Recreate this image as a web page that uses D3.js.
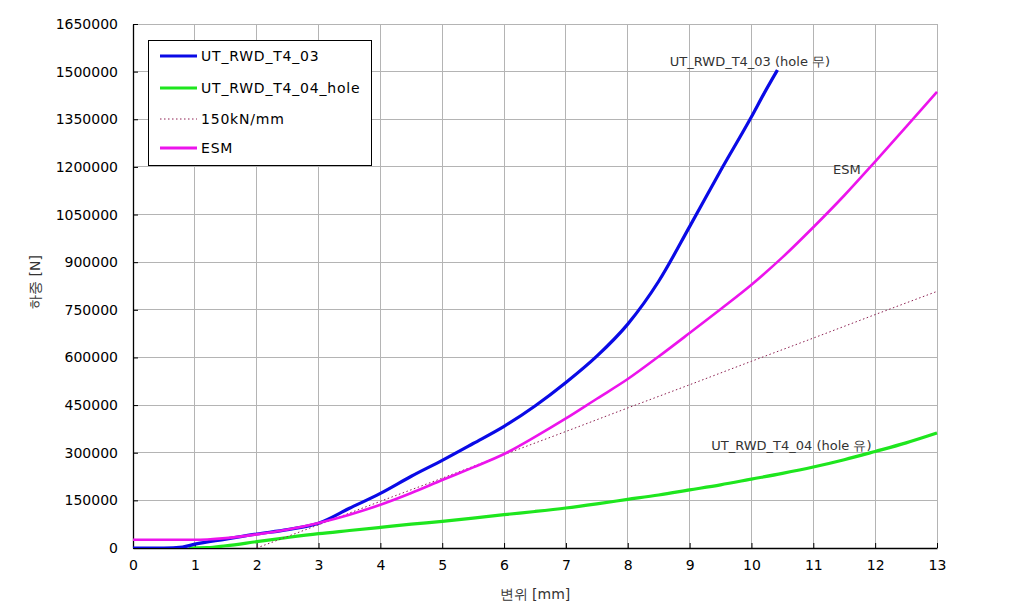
<!DOCTYPE html>
<html>
<head>
<meta charset="utf-8">
<script src="https://cdn.jsdelivr.net/npm/d3@7"></script>
<style>
  html, body { margin: 0; padding: 0; background: #ffffff; }
  svg { display: block; }
  text { font-family: "DejaVu Sans", Verdana, sans-serif; }
</style>
</head>
<body>
<svg id="chart" width="1021" height="604"></svg>
<script>
// ---- data ----
const xTicks = [0,1,2,3,4,5,6,7,8,9,10,11,12,13];
const yTicks = [0,150000,300000,450000,600000,750000,900000,1050000,1200000,1350000,1500000,1650000];

const blueX = [0,0.5,0.8,1.0,1.5,2,2.5,3,3.5,4,4.5,5,5.5,6,6.5,7,7.5,8,8.5,9,9.5,10,10.2,10.42];
const blueY = [0,0,3000,12000,28000,44000,58000,78000,125000,172000,226000,276000,329000,383000,447000,521000,604000,705000,840000,1012000,1188000,1358000,1430000,1505000];

const greenX = [0.9,1.2,1.5,2,2.5,3,3.5,4,4.5,5,5.5,6,6.5,7,7.5,8,8.5,9,9.5,10,10.5,11,11.5,12,12.5,13];
const greenY = [0,1000,7000,20000,33000,45000,55000,65000,75000,84000,94000,105000,115000,126000,139000,153000,167000,183000,199000,217000,235000,255000,278000,304000,331000,362000];

const dotX = [2,3,4,5,6,7,8,9,10,11,12,13];
const dotY = [0,73000,147000,220000,294000,367000,441000,514000,588000,661000,735000,808000];

const esmX = [0,0.5,1,1.2,1.5,2,2.5,3,3.5,4,4.5,5,5.5,6,6.5,7,7.5,8,8.5,9,9.5,10,10.5,11,11.5,12,12.5,13];
const esmY = [26000,26000,26000,27000,31000,43000,58000,79000,105000,136000,173000,214000,254000,296000,350000,408000,470000,532000,603000,677000,752000,829000,915000,1010000,1110000,1217000,1326000,1436000];

const legendLabels = ["UT_RWD_T4_03","UT_RWD_T4_04_hole","150kN/mm","ESM"];
const annoText = ["UT_RWD_T4_03 (hole 무)","ESM","UT_RWD_T4_04 (hole 유)"];
const annoX = [8.68, 11.32, 9.35];
const annoY = [1518000, 1178000, 310000];

const xTitle = "변위 [mm]";
const yTitle = "하중 [N]";

// ---- layout ----
const svg = d3.select("#chart");
const L = 133, R = 937, T = 24, B = 548;
const x = d3.scaleLinear().domain([0,13]).range([L,R]);
const y = d3.scaleLinear().domain([0,1650000]).range([B,T]);

svg.append("rect").attr("width",1021).attr("height",604).attr("fill","#fff");

// grid
const g = svg.append("g");
g.selectAll(".vg").data(xTicks.slice(1)).enter().append("line")
  .attr("x1",d=>x(d)).attr("x2",d=>x(d)).attr("y1",T).attr("y2",B)
  .attr("stroke","#b4b4b4").attr("stroke-width",1).attr("shape-rendering","crispEdges");
g.selectAll(".hg").data(yTicks.slice(1)).enter().append("line")
  .attr("x1",L).attr("x2",R).attr("y1",d=>y(d)).attr("y2",d=>y(d))
  .attr("stroke","#b4b4b4").attr("stroke-width",1).attr("shape-rendering","crispEdges");

// axes
const xAxis = d3.axisBottom(x).tickValues(xTicks).tickSizeInner(-5).tickSizeOuter(0).tickPadding(12);
const yAxis = d3.axisLeft(y).tickValues(yTicks).tickSizeInner(-5).tickSizeOuter(0).tickPadding(15).tickFormat(d3.format("d"));
const gx = svg.append("g").attr("transform",`translate(0,${B})`).call(xAxis);
const gy = svg.append("g").attr("transform",`translate(${L},0)`).call(yAxis);
[gx,gy].forEach(a=>{
  a.selectAll("path").attr("stroke","#000").attr("stroke-width",1.3);
  a.selectAll("line").attr("stroke","#000");
  a.selectAll("text").attr("font-size","14px").attr("fill","#000")
    .attr("font-family","'DejaVu Sans', Verdana, sans-serif");
});

// curves
const line = d3.line().x(d=>x(d[0])).y(d=>y(d[1])).curve(d3.curveMonotoneX);
const zip = (a,b)=>a.map((v,i)=>[v,b[i]]);
svg.append("clipPath").attr("id","pc").append("rect")
  .attr("x",L).attr("y",T-2).attr("width",R-L+2).attr("height",B-T+2);
const plot = svg.append("g").attr("clip-path","url(#pc)");

plot.append("path").datum(zip(greenX,greenY)).attr("d",line)
  .attr("fill","none").attr("stroke","#1ee61e").attr("stroke-width",3.2);
plot.append("path").datum(zip(blueX,blueY)).attr("d",line)
  .attr("fill","none").attr("stroke","#0a0ae6").attr("stroke-width",3.2);
plot.append("path").datum(zip(dotX,dotY)).attr("d",line)
  .attr("fill","none").attr("stroke","#8c1e50").attr("stroke-width",1).attr("stroke-dasharray","1.5,2.5");
plot.append("path").datum(zip(esmX,esmY)).attr("d",line)
  .attr("fill","none").attr("stroke","#ec14ec").attr("stroke-width",2.6);

// annotations
svg.selectAll(".anno").data(annoText).enter().append("text")
  .attr("x",(d,i)=>x(annoX[i])).attr("y",(d,i)=>y(annoY[i]))
  .attr("font-size","13px").attr("fill","#333").text(d=>d);

// legend
const lg = svg.append("g");
lg.append("rect").attr("x",148.5).attr("y",40.5).attr("width",223).attr("height",125)
  .attr("fill","#fff").attr("stroke","#000").attr("stroke-width",1);
const legColors = ["#0a0ae6","#1ee61e","#8c1e50","#ec14ec"];
const legRowY = [56,88,119,148];
legendLabels.forEach((lab,i)=>{
  const row = lg.append("g");
  row.append("line").attr("x1",160).attr("x2",197).attr("y1",legRowY[i]).attr("y2",legRowY[i])
    .attr("stroke",legColors[i]).attr("stroke-width", i===2?1:3)
    .attr("stroke-dasharray", i===2?"1.5,2.5":null);
  row.append("text").attr("x",201).attr("y",legRowY[i]+5).attr("font-size","14px")
    .attr("letter-spacing","0.8px").attr("fill","#000").text(lab);
});

// axis titles
svg.append("text").attr("x",(L+R)/2).attr("y",599).attr("text-anchor","middle")
  .attr("font-size","14px").attr("fill","#333").text(xTitle);
svg.append("text").attr("transform",`translate(40,${(T+B)/2 - 4}) rotate(-90)`)
  .attr("text-anchor","middle").attr("font-size","14px").attr("fill","#333").text(yTitle);
</script>
</body>
</html>
